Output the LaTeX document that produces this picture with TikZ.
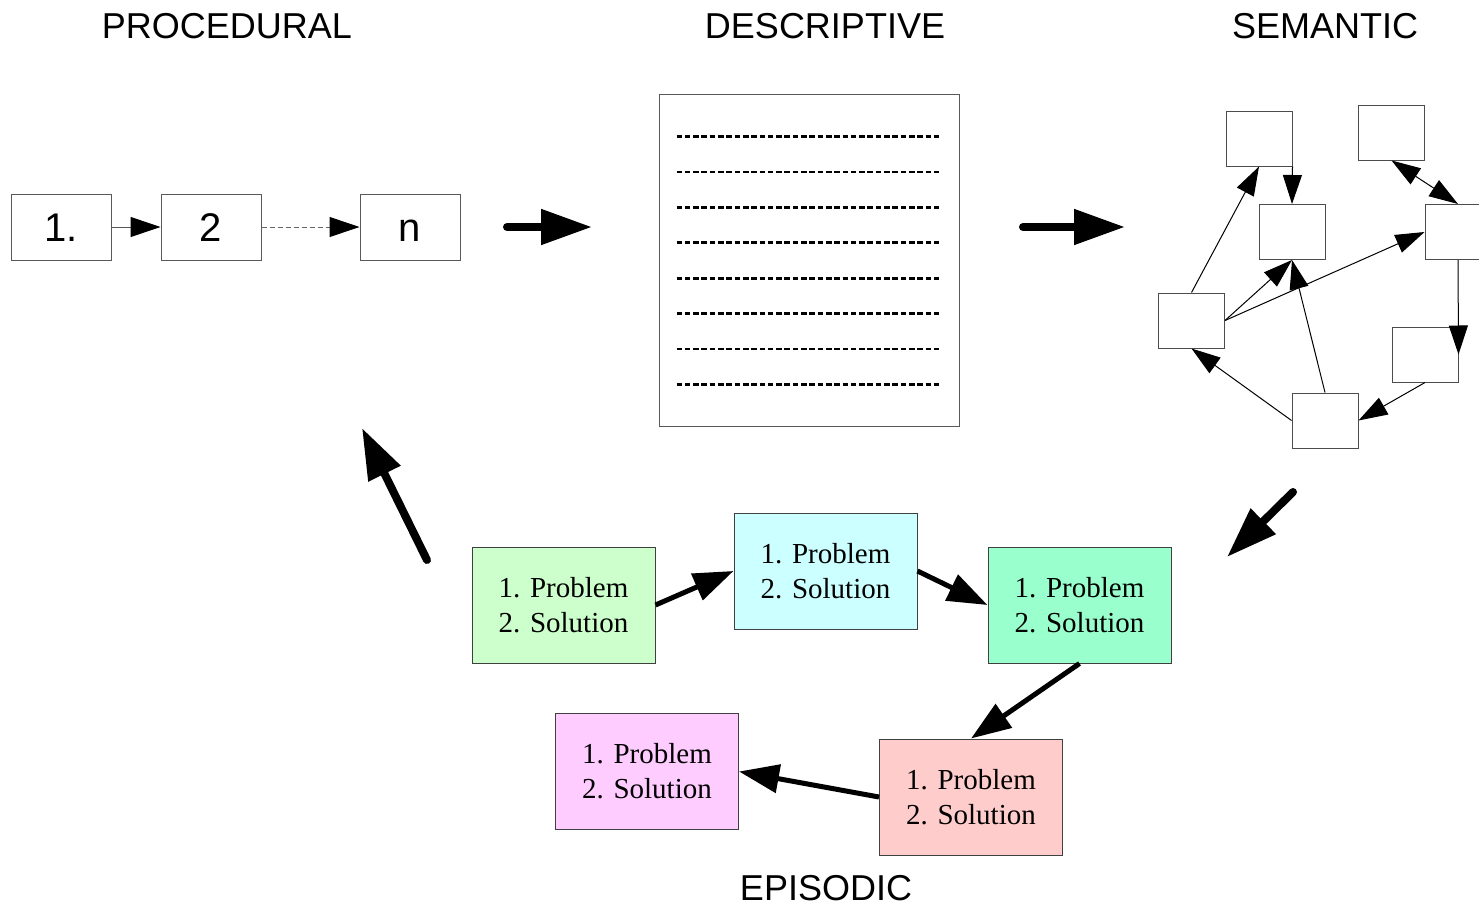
\documentclass[tikz,border=0pt]{standalone}
\usepackage{fontspec}
\setmainfont{Liberation Serif}
\setsansfont{Liberation Sans}
\usetikzlibrary{arrows.meta,calc}

\tikzset{
  header/.style={font=\sffamily\fontsize{36}{40}\selectfont, anchor=base, inner sep=0pt},
  stepbox/.style={draw=black!65, line width=1pt, minimum width=100pt, minimum height=66pt,
    inner sep=0pt, text height=29pt, text depth=0pt, font=\sffamily\fontsize{40}{44}\selectfont},
  semnode/.style={draw=black!70, line width=1pt, minimum width=66pt, minimum height=55pt, inner sep=0pt},
  episode/.style={draw=black!75, line width=1pt, minimum width=183pt, minimum height=116pt,
    inner sep=0pt, align=center, font=\fontsize{29}{35}\selectfont},
  docpage/.style={draw=black!65, line width=1pt, minimum width=300pt, minimum height=332pt, inner sep=0pt},
  textline/.style={line width=2.8pt, dash pattern=on 5.6pt off 2.7pt},
  thinarrow/.style={line width=1pt, -{Triangle[length=30pt,width=20pt,color=black]}},
  semarrow/.style={line width=1pt, -{Triangle[length=29pt,width=19pt]}},
  bigarrow/.style={line width=8pt, line cap=round, -{Triangle[length=51pt,width=34pt]}},
  flow/.style={line width=5pt, -{Triangle[length=40pt,width=28pt]}},
}

\definecolor{epA}{HTML}{CCFFCC}
\definecolor{epB}{HTML}{CCFFFF}
\definecolor{epC}{HTML}{99FFCC}
\definecolor{epD}{HTML}{FFCCCC}
\definecolor{epE}{HTML}{FFCCFF}

\begin{document}
\begin{tikzpicture}[x=1pt,y=-1pt]
\useasboundingbox (0,0) rectangle (1479,907);
\clip (0,0) rectangle (1479,907);

% headings
\node[header] (hproc) at (227,39) {PROCEDURAL};
\node[header] (hdesc) at (825,39) {DESCRIPTIVE};
\node[header] (hsem)  at (1325,39) {SEMANTIC};
\node[header] (hepi)  at (826,900) {EPISODIC};

% procedural chain
\node[stepbox] (p1) at (61,227) {1.};
\node[stepbox] (p2) at (211,227) {2};
\node[stepbox] (pn) at (410,227) {n};
\draw[thinarrow, draw=black!65] (p1) -- (p2);
\draw[thinarrow, draw=black!60, dash pattern=on 5pt off 3pt] (p2) -- (pn);

% descriptive page
\node[docpage] (doc) at (809,260) {};
\foreach \k in {0,...,7}
  \draw[textline] ($(doc.north west)+(18,43+35.4*\k)$) -- ++(265,0);

% semantic network
\node[semnode] (sA) at (1259,138.5) {};
\node[semnode] (sB) at (1391.5,132.5) {};
\node[semnode] (sC) at (1292,232) {};
\node[semnode] (sD) at (1458,232) {};
\node[semnode] (sE) at (1191.5,320.5) {};
\node[semnode] (sF) at (1425,354.5) {};
\node[semnode] (sG) at (1325,420.5) {};
\draw[semarrow] (sA.south east) -- (sC.north);
\draw[semarrow] (sE.north) -- (sA.south);
\draw[semarrow] (sE.east) -- (sC.south);
\draw[semarrow] (sE.east) -- (sD.west);
\draw[semarrow] (sG.north) -- (sC.south);
\draw[semarrow] (sG.west) -- (sE.south);
\draw[semarrow] (sD.south) -- (sF.east);
\draw[semarrow] (sF.south) -- (sG.east);
\draw[semarrow, {Triangle[length=29pt,width=19pt]}-{Triangle[length=29pt,width=19pt]}] (sB.south) -- (sD.north);

% episodic chain
\node[episode, fill=epA] (e1) at (563.5,605) {1. Problem\\2. Solution};
\node[episode, fill=epB] (e2) at (825.5,571) {1. Problem\\2. Solution};
\node[episode, fill=epC] (e3) at (1079.5,605) {1. Problem\\2. Solution};
\node[episode, fill=epD] (e4) at (971,797) {1. Problem\\2. Solution};
\node[episode, fill=epE] (e5) at (647,771.5) {1. Problem\\2. Solution};
\draw[flow] (e1.east) -- (e2.west);
\draw[flow] (e2.east) -- (e3.west);
\draw[flow] (e3.south) -- (e4.north);
\draw[flow] (e4.west) -- (e5.east);

% cycle arrows between the memory kinds
\coordinate (c1a) at (507,227);  \coordinate (c1b) at (592,227);
\coordinate (c2a) at (1023,227); \coordinate (c2b) at (1125,227);
\coordinate (c3a) at (1293,492); \coordinate (c3b) at (1227,557);
\coordinate (c4a) at (427,560);  \coordinate (c4b) at (362,428);
\draw[bigarrow] (c1a) -- (c1b);
\draw[bigarrow] (c2a) -- (c2b);
\draw[bigarrow] (c3a) -- (c3b);
\draw[bigarrow] (c4a) -- (c4b);
\end{tikzpicture}
\end{document}
